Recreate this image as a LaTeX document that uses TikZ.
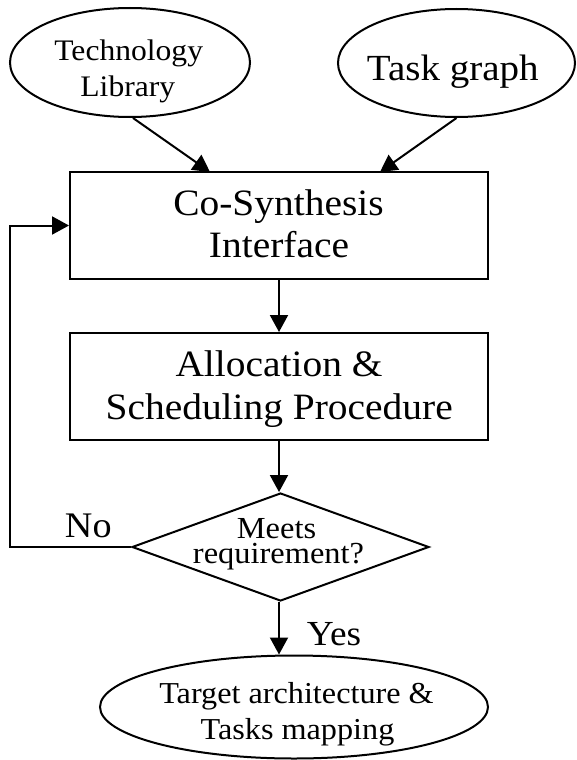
\documentclass[tikz,border=0pt]{standalone}
\usepackage{fontspec}
\setmainfont{Liberation Serif}[FakeStretch=1.06]
\usetikzlibrary{shapes.geometric,arrows.meta}
\begin{document}
\begin{tikzpicture}[x=1pt,y=-1pt,
  line width=2pt,
  arr/.style={-{Triangle[length=17pt,width=18pt]}},
  txt/.style={anchor=base, inner sep=0pt},
  big/.style={txt, font=\fontsize{37.2}{42}\selectfont},
  mid/.style={txt, font=\fontsize{30.6}{36}\selectfont},
  oval/.style={draw, ellipse, inner sep=0pt},
  stepbox/.style={draw, rectangle, minimum width=418pt, minimum height=107pt, inner sep=0pt},
  decision/.style={draw, diamond, minimum width=297pt, minimum height=108pt, inner sep=0pt}]

% canvas
\fill[white] (0,0) rectangle (576,760);
\useasboundingbox (0,0) rectangle (576,760);

% inputs
\node[oval, minimum width=240pt, minimum height=109pt] (tech) at (130,62.5) {};
\node[txt, font=\fontsize{29.8}{36}\selectfont] (techA) at (128.7,61) {Technology};
\node[txt, font=\fontsize{29.8}{36}\selectfont] (techB) at (127.8,96.7) {Library};

\node[oval, minimum width=237pt, minimum height=108pt] (task) at (456.5,63) {};
\node[txt, font=\fontsize{36.8}{42}\selectfont] (taskA) at (452.8,81) {Task graph};

% processing steps
\node[stepbox] (cosyn) at (279,225.5) {};
\node[big] (cosynA) at (278.5,215) {Co-Synthesis};
\node[big] (cosynB) at (279,257) {Interface};

\node[stepbox] (alloc) at (279,386.5) {};
\node[big] (allocA) at (279,376.7) {Allocation \&};
\node[big] (allocB) at (279.2,419) {Scheduling Procedure};

% decision
\node[decision] (check) at (280.5,547) {};
\node[mid] (checkA) at (276.5,538.3) {Meets};
\node[mid] (checkB) at (278.5,563) {requirement?};

% result
\node[oval, minimum width=388pt, minimum height=103pt] (result) at (294,707) {};
\node[txt, font=\fontsize{30.4}{36}\selectfont] (resultA) at (296.5,703) {Target architecture \&};
\node[txt, font=\fontsize{30.4}{36}\selectfont] (resultB) at (297.5,739) {Tasks mapping};

% branch labels
\node[txt, font=\fontsize{36}{42}\selectfont] (no) at (88.3,537.3) {No};
\node[txt, font=\fontsize{35.2}{42}\selectfont] (yes) at (334,645) {Yes};

% arrow targets on the interface box
\coordinate (inA) at (210,172);
\coordinate (inB) at (380,172);

% connectors
\draw[arr] (tech.south) ++(3,0) -- (inA);
\draw[arr] (task.south) -- (inB);
\draw[arr] (cosyn.south) -- (alloc.north);
\draw[arr] (alloc.south) -- (alloc.south |- check.north);
\draw[arr] (check.south -| alloc.south) -- (alloc.south |- result.north);
\draw[arr] (check.west) -- ++(-121,0) |- (cosyn.west);
\end{tikzpicture}
\end{document}
